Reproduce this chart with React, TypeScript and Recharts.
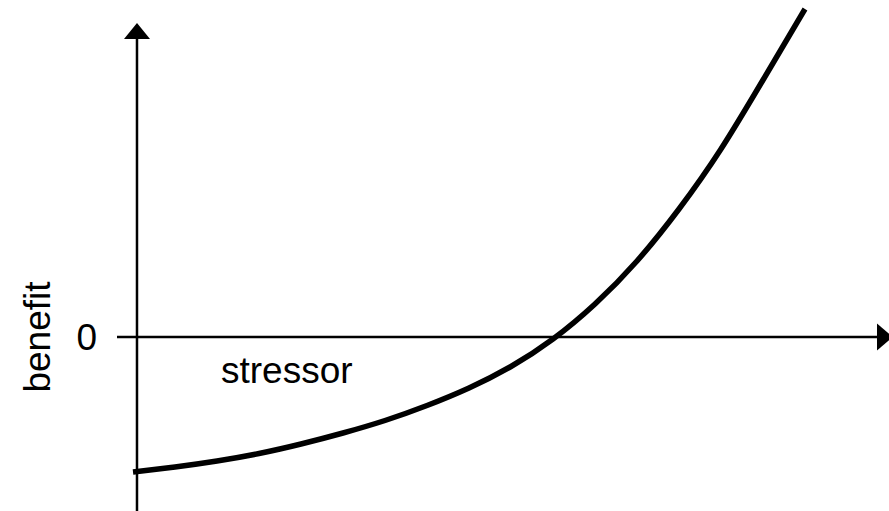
import React from 'react';
import { ComposedChart, Line, XAxis, YAxis, ReferenceLine, ReferenceDot } from 'recharts';

// stressor level and benefit (0 = horizontal axis)
const stressor = [0, 1, 2, 3, 4, 5, 6, 7, 8, 9, 10, 11, 12, 13, 14, 15, 16];
const benefit = [-1.35, -1.3, -1.24, -1.165, -1.07, -0.96, -0.835, -0.685, -0.51, -0.295, -0.02, 0.33, 0.76, 1.28, 1.88, 2.57, 3.28];
const yTicks = [0];
const xDomain: [number, number] = [-0.381, 18];
const yDomain: [number, number] = [-1.74, 3.37];
const yAxisX = 0.095;
const xArrowBase = 17.714;
const yArrowBase = 2.99;
const yArrowTip = 3.14;

const data = stressor.map((s, i) => ({ s, b: benefit[i] }));

const FONT = '"Liberation Sans", Arial, sans-serif';

const UpArrow = (p: any) => {
  const { cx, cy } = p;
  return <polygon points={`${cx},${cy} ${cx - 13},${cy + 16} ${cx + 13},${cy + 16}`} fill="#000" />;
};
const RightArrow = (p: any) => {
  const { cx, cy } = p;
  return <polygon points={`${cx + 16},${cy} ${cx},${cy - 13.5} ${cx},${cy + 13.5}`} fill="#000" />;
};

export default function App() {
  return (
    <div style={{ position: 'absolute', left: 0, top: 0, width: 889, height: 511, background: '#fff' }}>
      <ComposedChart width={889} height={511} data={data} margin={{ top: 0, right: 0, bottom: 0, left: 0 }}>
        <XAxis type="number" dataKey="s" domain={xDomain} hide allowDataOverflow />
        <YAxis
          type="number"
          domain={yDomain}
          ticks={yTicks}
          width={117}
          axisLine={false}
          tickLine={false}
          tickSize={0}
          tickMargin={20}
          allowDataOverflow
          tick={{ fontSize: 37, fill: '#000', fontFamily: FONT }}
          label={() => (
            <text
              x={50}
              y={337}
              transform="rotate(-90 50 337)"
              textAnchor="middle"
              fontSize={37}
              fontFamily={FONT}
              fill="#000"
            >
              benefit
            </text>
          )}
        />
        <ReferenceLine
          segment={[{ x: xDomain[0], y: 0 }, { x: xArrowBase, y: 0 }]}
          stroke="#000"
          strokeWidth={2.5}
          label={(p: any) => (
            <text x={221} y={383} fontSize={37} fontFamily={FONT} fill="#000">
              stressor
            </text>
          )}
        />
        <ReferenceLine
          segment={[{ x: yAxisX, y: yDomain[0] }, { x: yAxisX, y: yArrowBase }]}
          stroke="#000"
          strokeWidth={2.5}
        />
        <ReferenceDot x={yAxisX} y={yArrowTip} shape={UpArrow} />
        <ReferenceDot x={xArrowBase} y={0} shape={RightArrow} />
        <Line
          type="natural"
          dataKey="b"
          stroke="#000"
          strokeWidth={5.5}
          dot={false}
          isAnimationActive={false}
        />
      </ComposedChart>
    </div>
  );
}
